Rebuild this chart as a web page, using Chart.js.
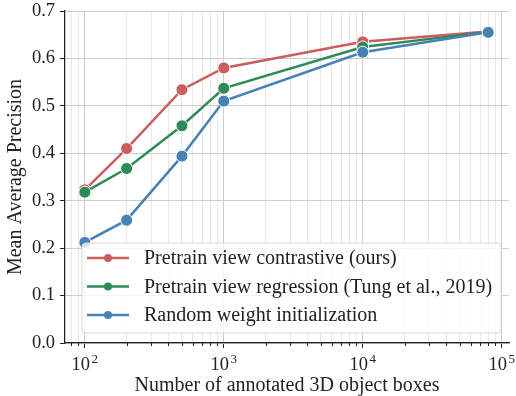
<!DOCTYPE html>
<html><head><meta charset="utf-8">
<script src="https://cdn.jsdelivr.net/npm/chart.js@4.4.1/dist/chart.umd.min.js"></script>
<style>html,body{margin:0;padding:0;background:#fff;}canvas{display:block;}</style>
</head><body>
<canvas id="c" width="516" height="396"></canvas>
<script>
const boxCounts = [100, 200, 500, 1000, 10000, 80000];
const contrastiveMAP = [0.323, 0.410, 0.534, 0.580, 0.635, 0.657];
const regressionMAP = [0.318, 0.368, 0.458, 0.537, 0.624, 0.656];
const randomInitMAP = [0.212, 0.259, 0.394, 0.510, 0.613, 0.655];
const seriesLabels = ['Pretrain view contrastive (ours)', 'Pretrain view regression (Tung et al., 2019)', 'Random weight initialization'];
const seriesColors = ['#cd5c5c', '#2e8b57', '#4682b4'];
const yTicks = [0.0, 0.1, 0.2, 0.3, 0.4, 0.5, 0.6, 0.7];
const xMajorTicks = [100, 1000, 10000, 100000];
const xTickBase = '10';
const xTickExponents = ['2', '3', '4', '5'];
const xMin = 72, xMax = 113000;

const FONT = '"Liberation Serif", "Times New Roman", Times, serif';
Chart.defaults.font.family = FONT;
Chart.defaults.color = '#222';

function pts(ys) { return boxCounts.map((x, i) => ({x: x, y: ys[i]})); }
const seriesValues = [contrastiveMAP, regressionMAP, randomInitMAP];
const datasets = seriesValues.map((ys, i) => ({
  label: seriesLabels[i],
  data: pts(ys),
  borderColor: seriesColors[i],
  backgroundColor: seriesColors[i],
  borderWidth: 2.5,
  pointRadius: 6,
  pointBorderColor: '#ffffff',
  pointBorderWidth: 1,
  pointBackgroundColor: seriesColors[i],
  tension: 0,
  order: 3 - i
}));

const isMajor = v => xMajorTicks.includes(v);

const extras = {
  id: 'extras',
  afterDatasetsDraw(chart) {
    const ctx = chart.ctx, s = chart.scales.x;
    ctx.save();
    ctx.strokeStyle = '#222';
    ctx.lineWidth = 1;
    s.ticks.forEach(t => {
      if (!isMajor(t.value)) {
        const px = Math.round(s.getPixelForValue(t.value)) + 0.5;
        ctx.beginPath(); ctx.moveTo(px, s.top); ctx.lineTo(px, s.top + 3); ctx.stroke();
      }
    });
    // x tick labels with superscript exponents
    ctx.fillStyle = '#222';
    ctx.textAlign = 'left';
    ctx.textBaseline = 'alphabetic';
    xMajorTicks.forEach((v, i) => {
      const px = s.getPixelForValue(v);
      ctx.font = '18.5px ' + FONT;
      const wb = ctx.measureText(xTickBase).width;
      ctx.font = '13px ' + FONT;
      const we = ctx.measureText(xTickExponents[i]).width;
      const x0 = px - (wb + 1.5 + we) / 2;
      ctx.font = '18.5px ' + FONT;
      ctx.fillText(xTickBase, x0, s.top + 27);
      ctx.font = '13px ' + FONT;
      ctx.fillText(xTickExponents[i], x0 + wb + 1.5, s.top + 19.5);
    });
    // legend
    const ca = chart.chartArea;
    ctx.font = '20px ' + FONT;
    let maxW = 0;
    chart.data.datasets.forEach(d => { maxW = Math.max(maxW, ctx.measureText(d.label).width); });
    const x0 = ca.left + 17, w = 62 + maxW + 9, h = 90;
    const y0 = ca.bottom - 10 - h;
    const r = 4;
    ctx.beginPath();
    ctx.moveTo(x0 + r, y0); ctx.lineTo(x0 + w - r, y0); ctx.arcTo(x0 + w, y0, x0 + w, y0 + r, r);
    ctx.lineTo(x0 + w, y0 + h - r); ctx.arcTo(x0 + w, y0 + h, x0 + w - r, y0 + h, r);
    ctx.lineTo(x0 + r, y0 + h); ctx.arcTo(x0, y0 + h, x0, y0 + h - r, r);
    ctx.lineTo(x0, y0 + r); ctx.arcTo(x0, y0, x0 + r, y0, r);
    ctx.closePath();
    ctx.fillStyle = 'rgba(255,255,255,0.8)';
    ctx.fill();
    ctx.strokeStyle = '#d6d6d6';
    ctx.lineWidth = 1;
    ctx.stroke();
    chart.data.datasets.forEach((d, i) => {
      const cy = y0 + 15 + i * 28.5;
      ctx.strokeStyle = d.borderColor; ctx.lineWidth = 2.5;
      ctx.beginPath(); ctx.moveTo(x0 + 5, cy); ctx.lineTo(x0 + 47, cy); ctx.stroke();
      ctx.beginPath(); ctx.arc(x0 + 26, cy, 4, 0, Math.PI * 2);
      ctx.fillStyle = d.borderColor; ctx.fill();
      ctx.fillStyle = '#222';
      ctx.textBaseline = 'middle';
      ctx.textAlign = 'left';
      ctx.fillText(d.label, x0 + 62, cy + 1);
    });
    ctx.restore();
  }
};

new Chart(document.getElementById('c'), {
  type: 'line',
  data: { datasets: datasets },
  options: {
    responsive: false,
    animation: false,
    devicePixelRatio: 1,
    layout: { padding: { top: 11, right: 6, left: 0, bottom: 0 } },
    plugins: { legend: { display: false }, tooltip: { enabled: false } },
    scales: {
      x: {
        type: 'logarithmic', min: xMin, max: xMax,
        afterBuildTicks: s => {
          const t = [];
          for (let d = 10; d <= 100000; d *= 10) {
            for (let m = 1; m < 10; m++) {
              const v = m * d;
              if (v >= xMin && v <= xMax) t.push({ value: v, major: isMajor(v) });
            }
          }
          s.ticks = t;
        },
        ticks: { display: false, autoSkip: false, maxRotation: 0, minRotation: 0 },
        grid: {
          color: c => (c.tick && isMajor(c.tick.value)) ? '#cccccc' : '#e8e8e8',
          lineWidth: 1,
          tickColor: c => (c.tick && isMajor(c.tick.value)) ? '#222' : 'rgba(0,0,0,0)',
          tickLength: 5
        },
        border: { display: true, color: '#222', width: 1.25 },
        title: { display: true, text: 'Number of annotated 3D object boxes', color: '#222', font: { size: 20 }, padding: { top: 0, bottom: -2 } },
        afterFit: s => { s.height = 53; s.paddingLeft = 0; s.paddingRight = 0; }
      },
      y: {
        min: 0, max: 0.7,
        afterBuildTicks: s => { s.ticks = yTicks.map(v => ({ value: v })); },
        ticks: { padding: 5, color: '#222', font: { size: 18.5 }, callback: v => Number(v).toFixed(1) },
        grid: { color: '#cccccc', lineWidth: 1, tickColor: '#222', tickLength: 5 },
        border: { display: true, color: '#222', width: 1.25 },
        title: { display: true, text: 'Mean Average Precision', color: '#222', font: { size: 20 }, padding: { top: 4, bottom: 0 } },
        afterFit: s => { s.width = 65; s.paddingTop = 0; s.paddingBottom = 0; }
      }
    }
  },
  plugins: [extras]
});
</script>
</body></html>
